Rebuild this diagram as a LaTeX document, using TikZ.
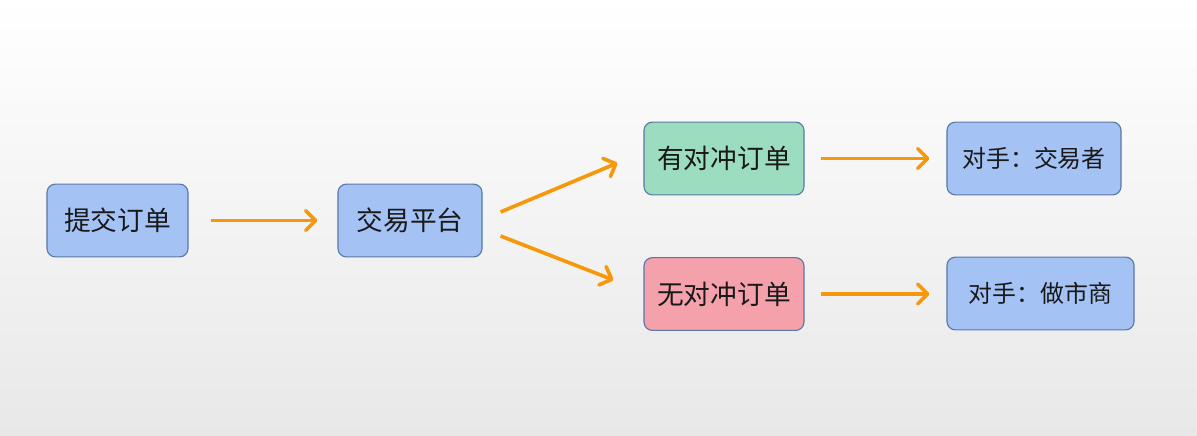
\documentclass[tikz,border=0pt]{standalone}
\usepackage{fontspec}
\newfontfamily\cjk{Noto Sans CJK SC}
\usepackage{tikz}
\usetikzlibrary{arrows.meta}
\usetikzlibrary{positioning}

\definecolor{boxblue}{HTML}{A4C2F4}
\definecolor{boxgreen}{HTML}{9BDDBE}
\definecolor{boxpink}{HTML}{F4A1AB}
\definecolor{boxline}{HTML}{5A78A6}
\definecolor{arrorange}{HTML}{F7980A}

\begin{document}
\begin{tikzpicture}[x=0.025cm, y=-0.025cm,
        box/.style={draw=boxline, line width=0.8pt, rounded corners=6pt, minimum height=1.82cm,
            inner sep=0pt, text=black!90, font=\cjk\fontsize{19}{19}\selectfont},
        small/.style={font=\cjk\fontsize{17}{17}\selectfont},
        arr/.style={draw=arrorange, line width=2.6pt, -{Straight Barb[length=7pt, width=14pt, round]}}]

        % background
        \shade[top color=white, bottom color=black!9] (0,0) rectangle (1197,435);
        \useasboundingbox (0,0) rectangle (1197,435);

        % Orders
        \node[box, fill=boxblue, minimum width=3.525cm] (submit) at (117.5,220.5) {提交订单};
        \node[box, fill=boxblue, minimum width=3.6cm] (platform) at (410,220.5) {交易平台};
        \node[box, fill=boxgreen, minimum width=4cm] (hedged) at (724,158.5) {有对冲订单};
        \node[box, fill=boxpink, minimum width=4cm] (unhedged) at (724,294) {无对冲订单};

        % Counterparties
        \node[box, small, fill=boxblue, minimum width=4.35cm] (trader) at (1034,158.5) {对手：交易者};
        \node[box, small, fill=boxblue, minimum width=4.675cm] (maker) at (1040.5,293.5) {对手：做市商};

        % Arrows
        \draw[arr, shorten <=0.55cm, shorten >=0.5cm] (submit) -- (platform);
        \draw[arr] ([shift={(18,-8.5)}]platform.east) -- ([shift={(-26,4.5)}]hedged.west);
        \draw[arr] ([shift={(18,15.5)}]platform.east) -- ([shift={(-30,-14)}]unhedged.west);
        \draw[arr, shorten <=0.4cm, shorten >=0.425cm] (hedged) -- (trader);
        \draw[arr, shorten <=0.4cm, shorten >=0.425cm] (unhedged.east) -- (unhedged.east -| maker.west);

\end{tikzpicture}
\end{document}
